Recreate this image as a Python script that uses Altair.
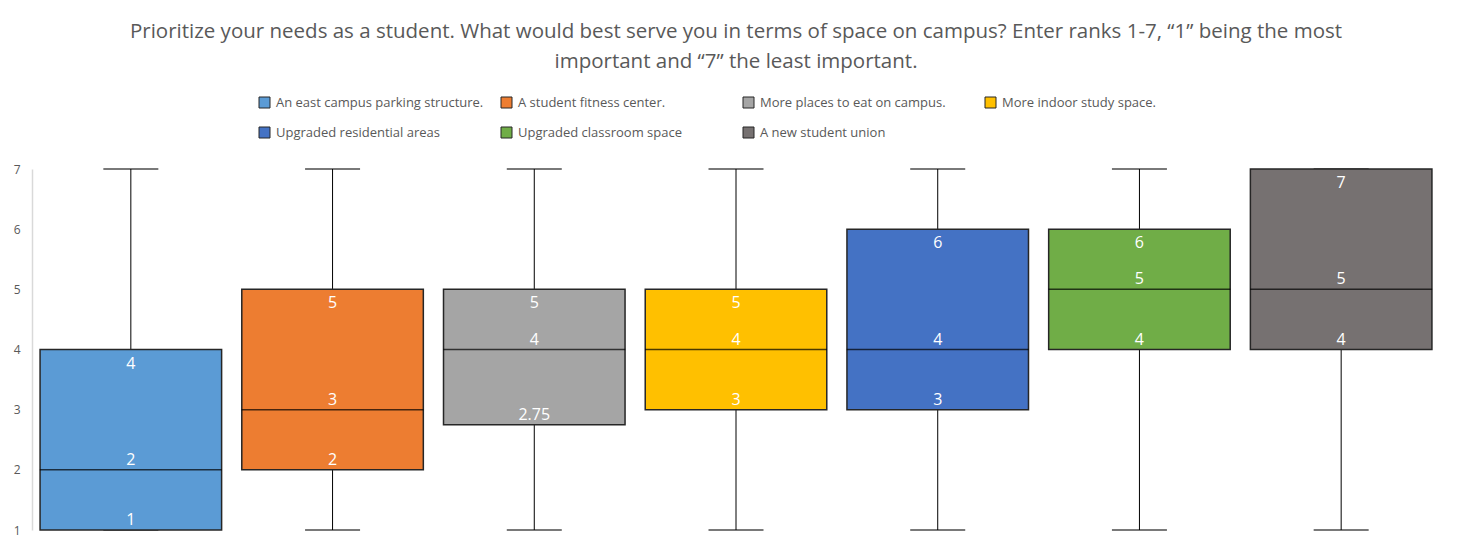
import altair as alt
import pandas as pd

categories = [
    "An east campus parking structure.",
    "A student fitness center.",
    "More places to eat on campus.",
    "More indoor study space.",
    "Upgraded residential areas",
    "Upgraded classroom space",
    "A new student union",
]
mins = [1, 1, 1, 1, 1, 1, 1]
q1s = [1, 2, 2.75, 3, 3, 4, 4]
medians = [2, 3, 4, 4, 4, 5, 5]
q3s = [4, 5, 5, 5, 6, 6, 7]
maxs = [7, 7, 7, 7, 7, 7, 7]
colors = ["#5B9BD5", "#ED7D31", "#A5A5A5", "#FFC000", "#4472C4", "#70AD47", "#767171"]

title_lines = [
    "Prioritize your needs as a student. What would best serve you in terms of space on campus? Enter ranks 1-7, \u201c1\u201d being the most",
    "important and \u201c7\u201d the least important.",
]

df = pd.DataFrame({
    "cat": categories, "min": mins, "q1": q1s, "median": medians,
    "q3": q3s, "max": maxs,
})

FONT = "Open Sans"
GREY = "#595959"

xenc = alt.X("cat:N", sort=categories, axis=None,
             scale=alt.Scale(paddingInner=0.1, paddingOuter=0.04))
yscale = alt.Scale(domain=[1, 7], nice=False, zero=False)

base = alt.Chart(df).encode(x=xenc)

whisker = base.mark_rule(color="black", strokeWidth=1).encode(
    y=alt.Y("min:Q", scale=yscale, title=None,
            axis=alt.Axis(values=[1, 2, 3, 4, 5, 6, 7], format="d", ticks=False, grid=False,
                          domainColor="#D9D9D9", domainWidth=1.5, labelColor=GREY,
                          labelFontSize=12, labelFont=FONT, labelPadding=12)),
    y2="max:Q",
)
cap_low = base.mark_tick(color="black", size=55, thickness=1.3).encode(y=alt.Y("min:Q", scale=yscale))
cap_high = base.mark_tick(color="black", size=55, thickness=1.3).encode(y=alt.Y("max:Q", scale=yscale))

box = base.mark_bar(stroke="#262626", strokeWidth=1.5).encode(
    y=alt.Y("q1:Q", scale=yscale),
    y2="q3:Q",
    color=alt.Color("cat:N", sort=categories,
                    scale=alt.Scale(domain=categories, range=colors),
                    legend=alt.Legend(title=None, orient="none", legendX=226, legendY=-73,
                                      columns=4, direction="horizontal",
                                      symbolType="square", symbolSize=121,
                                      symbolStrokeColor="#262626", symbolStrokeWidth=1,
                                      labelFont=FONT, labelFontSize=13, labelColor=GREY,
                                      labelLimit=400, columnPadding=15, rowPadding=15,
                                      gridAlign="all", padding=0, labelOffset=5)),
)
median = base.mark_tick(color="black", size=182, thickness=1.5).encode(y=alt.Y("median:Q", scale=yscale))

txt = dict(color="white", font=FONT, fontSize=16, align="center", baseline="middle")
t_q3 = base.mark_text(dy=14, **txt).encode(y=alt.Y("q3:Q", scale=yscale), text=alt.Text("q3:Q", format="~g"))
t_med = base.mark_text(dy=-10, **txt).encode(y=alt.Y("median:Q", scale=yscale), text=alt.Text("median:Q", format="~g"))
t_q1 = base.mark_text(dy=-10, **txt).encode(y=alt.Y("q1:Q", scale=yscale), text=alt.Text("q1:Q", format="~g"))

chart = alt.layer(whisker, cap_low, cap_high, box, median, t_q3, t_med, t_q1).properties(
    width=1408, height=361,
    background="white",
    title=alt.TitleParams(text=title_lines, fontSize=20.5, color=GREY, font=FONT,
                          fontWeight="normal", anchor="middle", lineHeight=30, offset=24),
    autosize=alt.AutoSizeParams(type="none"),
    padding={"left": 24, "top": 161, "right": 10, "bottom": 12},
).configure_view(stroke="transparent", strokeWidth=0)

chart.save("out.html", embed_options={"renderer": "svg", "actions": False})
